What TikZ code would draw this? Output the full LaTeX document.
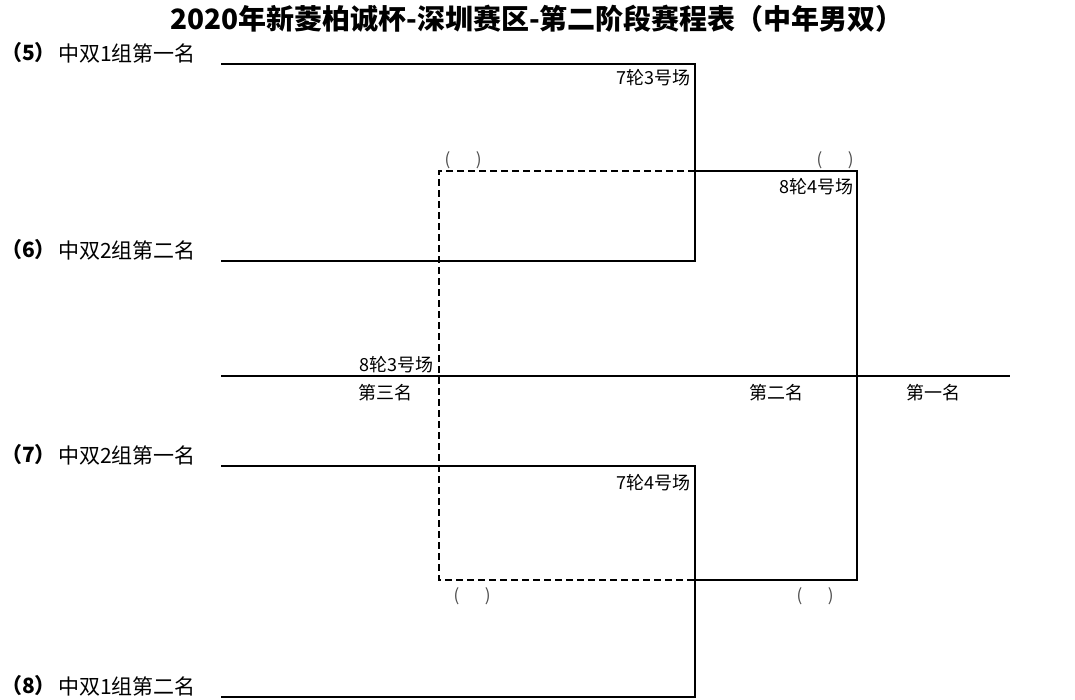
\documentclass[tikz,border=0pt]{standalone}
\usepackage{fontspec}
\newfontfamily\cjk{Noto Sans CJK SC}
\usetikzlibrary{positioning}
\begin{document}
\begin{tikzpicture}[x=1pt,y=-1pt,
  bline/.style={black, line width=2pt},
  dline/.style={black, line width=1.6pt, dash pattern=on 7pt off 4pt},
  lbl/.style={inner sep=0pt, font=\cjk\fontsize{18}{18}\selectfont},
  team/.style={inner sep=0pt, anchor=west, font=\cjk\fontsize{21}{21}\selectfont},
  seed/.style={inner sep=0pt, anchor=east, font=\cjk\bfseries\fontsize{21}{21}\selectfont},
  slot/.style={inner sep=0pt, text=black!70, font=\cjk\fontsize{17}{17}\selectfont}]
\useasboundingbox (0,0) rectangle (1075,699);
\node[font=\cjk\bfseries\fontsize{28}{28}\selectfont] (title) at (537,19)
  {2020年新菱柏诚杯-深圳赛区-第二阶段赛程表（中年男双）};
% bracket corners
\coordinate (a5) at (221,64);  \coordinate (m5) at (695,64);
\coordinate (a6) at (221,261); \coordinate (m6) at (695,261);
\coordinate (a7) at (221,466); \coordinate (m7) at (695,466);
\coordinate (a8) at (221,697); \coordinate (m8) at (695,697);
\coordinate (w1) at (695,171); \coordinate (f1) at (857,171);
\coordinate (w2) at (695,580); \coordinate (f2) at (857,580);
\coordinate (d1) at (439,171); \coordinate (d2) at (439,580);
\coordinate (c1) at (221,376); \coordinate (c2) at (1010,376);
\draw[bline] (a5) -- (m5) -- (m6) -- (a6);
\draw[bline] (a7) -- (m7) -- (m8) -- (a8);
\draw[bline] (w1) -- (f1) -- (f2) -- (w2);
\draw[dline] (w1) -- (d1) -- (d2) -- (w2);
\draw[bline] (c1) -- (c2);
% entrants
\node[seed] (s5) at (56,53) {（5）};
\node[team] (t5) at (58,53) {中双1组第一名};
\node[seed] (s6) at (56,250) {（6）};
\node[team] (t6) at (58,250) {中双2组第二名};
\node[seed] (s7) at (56,455) {（7）};
\node[team] (t7) at (58,455) {中双2组第一名};
\node[seed] (s8) at (56,686) {（8）};
\node[team] (t8) at (58,686) {中双1组第二名};
% matches
\node[lbl, anchor=east] (r73) at (691,78) {7轮3号场};
\node[lbl, anchor=east] (r84) at (854,187) {8轮4号场};
\node[lbl, anchor=east] (r83) at (434,365) {8轮3号场};
\node[lbl, anchor=east] (r74) at (691,483) {7轮4号场};
\node[lbl] (p3) at (385,393) {第三名};
\node[lbl] (p2) at (776,393) {第二名};
\node[lbl] (p1) at (933,393) {第一名};
\node[slot] (o1) at (463,160) {(\quad\enspace)};
\node[slot] (o2) at (835,160) {(\quad\enspace)};
\node[slot] (o3) at (472,596) {(\quad\enspace)};
\node[slot] (o4) at (815,596) {(\quad\enspace)};
\end{tikzpicture}
\end{document}
